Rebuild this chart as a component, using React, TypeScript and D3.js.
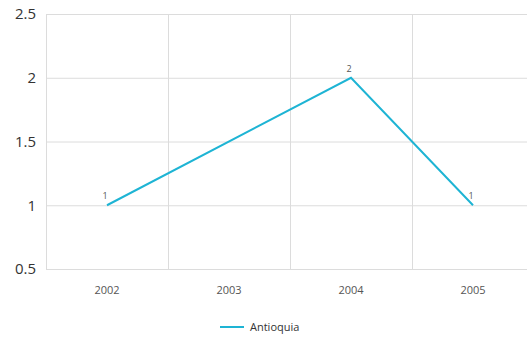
import React, { useRef, useEffect } from "react"
import * as d3 from "d3"

const years = ["2002", "2003", "2004", "2005"]
const antioquia: (number | null)[] = [1, null, 2, 1]
const yTicks = [0.5, 1, 1.5, 2, 2.5]
const seriesName = "Antioquia"

const App: React.FC = () => {
  const svgRef = useRef<SVGSVGElement>(null)

  const width = 527
  const height = 341
  const margin = { top: 14, right: -7, bottom: 72, left: 46 }

  useEffect(() => {
    const svg = d3.select(svgRef.current)
    svg.selectAll("*").remove()

    const font = "'Open Sans', 'Noto Sans', sans-serif"
    const color = "#1eb4d4"

    const x = d3.scaleBand()
      .domain(years)
      .range([margin.left, width - margin.right])

    const y = d3.scaleLinear()
      .domain([0.5, 2.5])
      .range([height - margin.bottom, margin.top])

    const grid = svg.append("g")

    // horizontal grid
    grid.selectAll("line.h")
      .data(yTicks)
      .enter().append("line")
      .attr("x1", margin.left)
      .attr("x2", width - margin.right)
      .attr("y1", d => y(d) + 0.5)
      .attr("y2", d => y(d) + 0.5)
      .attr("stroke", "#dcdcdc")

    // vertical grid at band edges
    const edges = years.map(d => x(d)!).concat([x(years[years.length - 1])! + x.bandwidth()])
    grid.selectAll("line.v")
      .data(edges)
      .enter().append("line")
      .attr("x1", d => d + 0.5)
      .attr("x2", d => d + 0.5)
      .attr("y1", margin.top)
      .attr("y2", height - margin.bottom)
      .attr("stroke", "#dcdcdc")

    // y labels
    svg.append("g").selectAll("text")
      .data(yTicks)
      .enter().append("text")
      .attr("x", 36)
      .attr("y", d => y(d))
      .attr("dy", "0.35em")
      .attr("text-anchor", "end")
      .attr("font-family", font)
      .attr("font-size", 15)
      .attr("fill", "#333")
      .text(d => String(d))

    // x labels
    svg.append("g").selectAll("text")
      .data(years)
      .enter().append("text")
      .attr("x", d => x(d)! + x.bandwidth() / 2)
      .attr("y", height - margin.bottom + 25)
      .attr("text-anchor", "middle")
      .attr("font-family", font)
      .attr("font-size", 11)
      .attr("fill", "#555")
      .text(d => d)

    const pts = years
      .map((d, i) => ({ year: d, v: antioquia[i] }))
      .filter(p => p.v !== null) as { year: string, v: number }[]

    const line = d3.line<{ year: string, v: number }>()
      .x(d => x(d.year)! + x.bandwidth() / 2)
      .y(d => y(d.v))

    svg.append("path")
      .datum(pts)
      .attr("d", line)
      .attr("fill", "none")
      .attr("stroke", color)
      .attr("stroke-width", 2)

    svg.append("g").selectAll("text")
      .data(pts)
      .enter().append("text")
      .attr("x", d => x(d.year)! + x.bandwidth() / 2 - 2)
      .attr("y", d => y(d.v) - 6)
      .attr("text-anchor", "middle")
      .attr("font-family", font)
      .attr("font-size", 9)
      .attr("fill", "#555")
      .text(d => String(d.v))

    // legend
    const lg = svg.append("g").attr("transform", "translate(220,327)")
    lg.append("line")
      .attr("x1", 0).attr("x2", 24)
      .attr("stroke", color).attr("stroke-width", 2)
    lg.append("text")
      .attr("x", 30)
      .attr("dy", "0.35em")
      .attr("font-family", font)
      .attr("font-size", 11)
      .attr("fill", "#333")
      .text(seriesName)
  }, [])

  return (
    <svg ref={svgRef} width={width} height={height}
      style={{ position: "absolute", left: 0, top: 0, background: "#fff" }} />
  )
}

export default App
